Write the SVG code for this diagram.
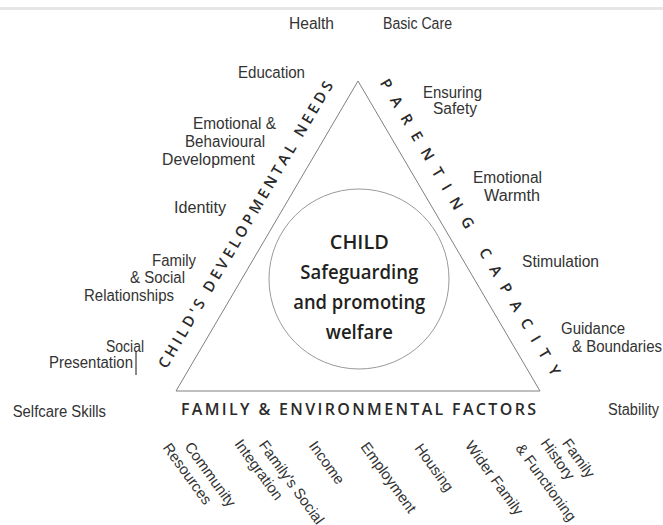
<svg xmlns="http://www.w3.org/2000/svg" width="663" height="525" viewBox="0 0 663 525">
<style>
.lbl{font-family:"Liberation Sans",Arial,sans-serif;font-size:16px;fill:#333;}
.bl{font-family:"Liberation Sans",Arial,sans-serif;font-size:15px;fill:#333;}
.ttl{font-family:"Open Sans","DejaVu Sans",sans-serif;font-size:15px;font-weight:600;fill:#2a2a2a;}
.ctr{font-family:"Open Sans","DejaVu Sans",sans-serif;font-size:20px;font-weight:600;fill:#231f20;text-anchor:middle;}
</style>
<rect x="0" y="0" width="663" height="525" fill="#ffffff"/>
<rect x="0" y="7" width="663" height="3" fill="#e6e6e6"/>
<g id="connectors">
  <polygon id="triangle" points="358,81 176,391 540,391" fill="none" stroke="#808080" stroke-width="1"/>
</g>
<g id="child">
  <circle cx="359" cy="279" r="90" fill="none" stroke="#9a9a9a" stroke-width="1"/>
  <text class="ctr" x="359.3" y="249" textLength="59" lengthAdjust="spacingAndGlyphs">CHILD</text>
  <text class="ctr" x="359.3" y="279.3" textLength="118" lengthAdjust="spacingAndGlyphs">Safeguarding</text>
  <text class="ctr" x="359.3" y="309.3" textLength="132" lengthAdjust="spacingAndGlyphs">and promoting</text>
  <text class="ctr" x="359.3" y="339.3" textLength="67" lengthAdjust="spacingAndGlyphs">welfare</text>
</g>
<g id="childs-developmental-needs">
  <text class="ttl" transform="translate(166.5,369.6) rotate(-59.58)" textLength="330" lengthAdjust="spacing">CHILD'S DEVELOPMENTAL NEEDS</text>
  <text class="lbl" x="289" y="29.3" textLength="45" lengthAdjust="spacingAndGlyphs">Health</text>
  <text class="lbl" x="238" y="77.7" textLength="67" lengthAdjust="spacingAndGlyphs">Education</text>
  <text class="lbl" x="193" y="129" textLength="83" lengthAdjust="spacingAndGlyphs">Emotional &amp;</text>
  <text class="lbl" x="185" y="147" textLength="80" lengthAdjust="spacingAndGlyphs">Behavioural</text>
  <text class="lbl" x="162" y="164.5" textLength="93" lengthAdjust="spacingAndGlyphs">Development</text>
  <text class="lbl" x="174" y="213" textLength="52" lengthAdjust="spacingAndGlyphs">Identity</text>
  <text class="lbl" x="152" y="266" textLength="44" lengthAdjust="spacingAndGlyphs">Family</text>
  <text class="lbl" x="130" y="283" textLength="55" lengthAdjust="spacingAndGlyphs">&amp; Social</text>
  <text class="lbl" x="84" y="301" textLength="90" lengthAdjust="spacingAndGlyphs">Relationships</text>
  <text class="lbl" x="106" y="352" textLength="38" lengthAdjust="spacingAndGlyphs">Social</text>
  <text class="lbl" x="49" y="368" textLength="84" lengthAdjust="spacingAndGlyphs">Presentation</text>
  <line x1="136" y1="351" x2="136" y2="375" stroke="#111" stroke-width="1"/>
  <text class="lbl" x="12.7" y="416.5" textLength="93.3" lengthAdjust="spacingAndGlyphs">Selfcare  Skills</text>
</g>
<g id="parenting-capacity">
  <text class="ttl" transform="translate(379.4,82.8) rotate(59.58)" textLength="341" lengthAdjust="spacing">PARENTING CAPACITY</text>
  <text class="lbl" x="383" y="29.3" textLength="69" lengthAdjust="spacingAndGlyphs">Basic Care</text>
  <text class="lbl" x="423" y="98.3" textLength="59" lengthAdjust="spacingAndGlyphs">Ensuring</text>
  <text class="lbl" x="433" y="113.5" textLength="44" lengthAdjust="spacingAndGlyphs">Safety</text>
  <text class="lbl" x="473" y="183.3" textLength="69" lengthAdjust="spacingAndGlyphs">Emotional</text>
  <text class="lbl" x="484" y="201" textLength="56" lengthAdjust="spacingAndGlyphs">Warmth</text>
  <text class="lbl" x="522" y="267.3" textLength="77" lengthAdjust="spacingAndGlyphs">Stimulation</text>
  <text class="lbl" x="561" y="334" textLength="64" lengthAdjust="spacingAndGlyphs">Guidance</text>
  <text class="lbl" x="572" y="351.7" textLength="90" lengthAdjust="spacingAndGlyphs">&amp; Boundaries</text>
  <text class="lbl" x="608" y="414.5" textLength="51" lengthAdjust="spacingAndGlyphs">Stability</text>
</g>
<g id="family-environmental-factors">
  <text class="ttl" x="181" y="414.5" style="font-size:16px" textLength="355" lengthAdjust="spacing">FAMILY &amp; ENVIRONMENTAL FACTORS</text>
  <text class="bl" transform="translate(183.9,446.7) rotate(54)">Community</text>
  <text class="bl" transform="translate(162.2,447.7) rotate(54)">Resources</text>
  <text class="bl" transform="translate(258.2,445) rotate(54)">Family's Social</text>
  <text class="bl" transform="translate(233.9,444) rotate(54)">Integration</text>
  <text class="bl" transform="translate(308.2,445.7) rotate(54)">Income</text>
  <text class="bl" transform="translate(359.9,446.7) rotate(54)">Employment</text>
  <text class="bl" transform="translate(413.9,448.3) rotate(54)">Housing</text>
  <text class="bl" transform="translate(464.5,445.5) rotate(54)">Wider Family</text>
  <text class="bl" transform="translate(561.5,443.3) rotate(54)">Family</text>
  <text class="bl" transform="translate(539.9,443.3) rotate(54)">History</text>
  <text class="bl" transform="translate(514.9,448.3) rotate(54)">&amp; Functioning</text>
</g>
</svg>
